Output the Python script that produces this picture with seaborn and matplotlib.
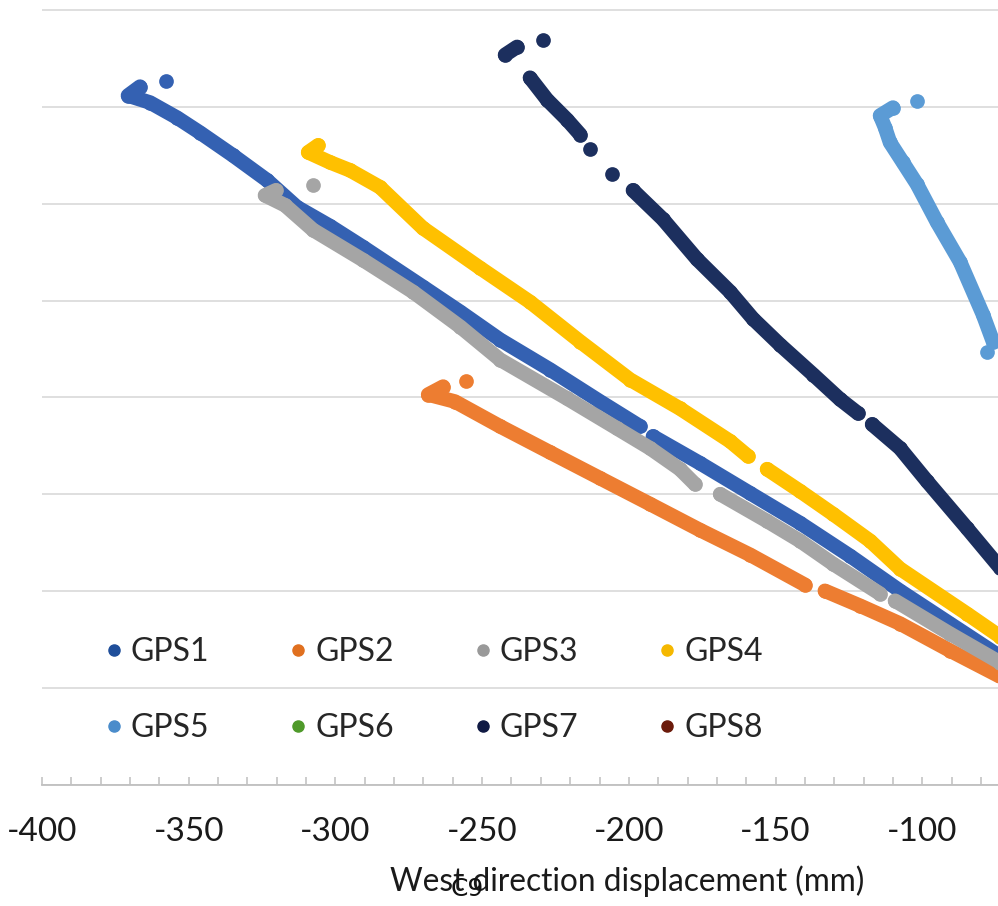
import matplotlib
matplotlib.use("Agg")
import matplotlib.pyplot as plt
import pandas as pd
import seaborn as sns
from matplotlib.lines import Line2D
from matplotlib.ticker import MultipleLocator

# ---------------- data (mm) ----------------
series_names = ["GPS1", "GPS2", "GPS3", "GPS4", "GPS5", "GPS6", "GPS7", "GPS8"]
series_colors = ["#3461B2", "#ED7D31", "#A5A5A5", "#FFC000",
                 "#5B9BD5", "#5E9E35", "#1C2F5E", "#7A1F0C"]
legend_colors = ["#1F4E9A", "#E0701F", "#999999", "#F5B800",
                 "#4A8CCB", "#4F9A2A", "#101A44", "#6B1A0A"]

gps1_x = [-366.6, -370.7, -363.2, -354.0, -346.2, -334.9, -323.3, -313.1, -301.8, -290.6,
          -270.2, -257.5, -243.9, -226.9, -209.8, -196.2, -191.8, -175.8, -158.7, -141.7,
          -124.6, -107.6, -90.6, -73.5, -357.7]
gps1_y = [360.4, 355.8, 352.2, 344.4, 336.7, 324.9, 312.1, 298.2, 288.4, 277.6,
          257.1, 244.2, 229.8, 214.4, 197.9, 185.1, 179.9, 166.1, 150.6, 135.2,
          118.2, 100.2, 83.3, 66.3, 363.5]
gps1_seg = [0] * 16 + [1] * 8 + [2]

gps2_x = [-263.3, -268.4, -259.3, -243.9, -226.9, -209.8, -192.8, -175.8, -158.7, -140.0,
          -133.2, -121.2, -107.6, -90.6, -73.5, -255.5]
gps2_y = [205.6, 201.5, 197.9, 185.1, 171.7, 158.3, 145.0, 131.6, 118.8, 103.3,
          100.2, 92.5, 83.3, 69.4, 56.0, 208.7]
gps2_seg = [0] * 10 + [1] * 5 + [2]

gps3_x = [-320.3, -324.0, -317.2, -307.6, -290.6, -273.6, -257.5, -243.9, -221.1, -204.0,
          -192.8, -182.6, -177.5, -168.9, -152.9, -141.7, -130.4, -114.4, -109.3, -90.6,
          -73.5, -307.6]
gps3_y = [306.9, 304.3, 299.2, 286.4, 270.9, 254.5, 236.5, 219.5, 199.5, 184.0,
          173.8, 163.0, 155.3, 150.1, 136.2, 126.0, 114.1, 98.7, 95.1, 78.1,
          63.2, 309.5]
gps3_seg = [0] * 13 + [1] * 5 + [2] * 3 + [3]

gps4_x = [-305.9, -309.3, -301.8, -295.0, -284.8, -270.2, -250.7, -233.7, -216.6, -199.6,
          -182.6, -165.5, -159.4, -152.9, -141.7, -130.4, -117.8, -107.6, -84.8, -73.5]
gps4_y = [330.1, 326.5, 321.3, 317.2, 308.5, 287.4, 266.8, 249.3, 228.8, 209.2,
          194.3, 177.4, 169.7, 163.0, 151.7, 139.8, 126.0, 111.6, 88.4, 76.6]
gps4_seg = [0] * 13 + [1] * 7

gps5_x = [-110.0, -114.4, -112.7, -111.0, -106.6, -101.8, -95.0, -87.1, -79.3, -75.9,
          -101.8, -77.9]
gps5_y = [349.6, 345.5, 339.3, 331.6, 321.3, 310.0, 290.5, 269.9, 242.7, 228.8,
          353.2, 223.6]
gps5_seg = [0] * 10 + [1] + [2]

gps6_x, gps6_y, gps6_seg = [], [], []

gps7_x = [-238.1, -242.2, -229.3, -233.7, -227.9, -221.1, -216.6, -213.2, -205.7, -198.6,
          -188.4, -176.8, -165.5, -157.7, -148.5, -137.2, -128.0, -121.9, -117.1, -107.6,
          -98.4, -84.8, -73.5]
gps7_y = [380.9, 376.8, 384.5, 365.0, 353.7, 343.4, 335.7, 328.0, 315.1, 306.9,
          292.0, 271.4, 254.5, 240.6, 227.2, 211.8, 199.0, 191.8, 186.1, 173.8,
          156.8, 132.6, 112.1]
gps7_seg = [0, 0, 1, 2, 2, 2, 2, 3, 4, 5, 5, 5, 5, 5, 5, 5, 5, 5, 6, 6, 6, 6, 6]

gps8_x, gps8_y, gps8_seg = [], [], []

all_x = [gps1_x, gps2_x, gps3_x, gps4_x, gps5_x, gps6_x, gps7_x, gps8_x]
all_y = [gps1_y, gps2_y, gps3_y, gps4_y, gps5_y, gps6_y, gps7_y, gps8_y]
all_seg = [gps1_seg, gps2_seg, gps3_seg, gps4_seg, gps5_seg, gps6_seg, gps7_seg, gps8_seg]

x_label = "West direction displacement (mm)"
x_ticks = [-400, -350, -300, -250, -200, -150, -100]

# ---------------- style ----------------
sns.set_theme(style="white")
plt.rcParams["font.family"] = ["Lato", "DejaVu Sans"]
plt.rcParams["axes.unicode_minus"] = False

fig = plt.figure(figsize=(9.98, 9.06), dpi=100)
ax = fig.add_axes([42 / 998, 121 / 906, 956 / 998, 778 / 906])

for i, (name, xs, ys, sg, col) in enumerate(zip(series_names, all_x, all_y, all_seg, series_colors)):
    if len(xs) == 0:
        continue
    df = pd.DataFrame({"x": xs, "y": ys, "seg": sg})
    sns.lineplot(data=df, x="x", y="y", units="seg", estimator=None, sort=False,
                 color=col, linewidth=10.5, solid_capstyle="round", ax=ax,
                 legend=False, zorder=3 + i * 0.1)
    sns.scatterplot(data=df, x="x", y="y", color=col, s=112, linewidth=0, ax=ax,
                    legend=False, zorder=3.05 + i * 0.1)

ax.set_xlim(-400, -74.2)
ax.set_ylim(0, 401.5)
ax.xaxis.set_minor_locator(MultipleLocator(10))
ax.set_xticks(x_ticks)
ax.yaxis.set_major_locator(MultipleLocator(50))
ax.grid(axis="y", color="#D9D9D9", linewidth=1.2)
ax.grid(axis="x", visible=False)
ax.set_axisbelow(True)

for s in ["left", "right", "top"]:
    ax.spines[s].set_visible(False)
ax.spines["bottom"].set_color("#BFBFBF")
ax.spines["bottom"].set_linewidth(1.3)

ax.tick_params(axis="y", left=False, labelleft=False)
ax.tick_params(axis="x", which="both", direction="in", bottom=True, length=6,
               width=1.1, color="#BFBFBF")
ax.tick_params(axis="x", which="major", labelsize=24, pad=23, labelcolor="#1A1A1A")

ax.set_xlabel(x_label, fontsize=22.8, color="#1A1A1A")
ax.xaxis.label.set_va("center")
ax.xaxis.set_label_coords(0.6125, (785 - 881) / 778)
ax.set_ylabel("")

# legend (row-wise order for 4 columns)
order = [0, 4, 1, 5, 2, 6, 3, 7]
handles = [Line2D([], [], marker="o", linestyle="", color=legend_colors[k],
                  markersize=8) for k in order]
labels = [series_names[k] for k in order]
ax.legend(handles, labels, ncol=4, loc="upper left", bbox_to_anchor=(0.067, 0.190),
          frameon=False, fontsize=23, handlelength=0.5, handletextpad=0.28,
          columnspacing=2.53, labelspacing=1.45, borderpad=0, borderaxespad=0)

fig.text(467 / 998, 1 - 889 / 906, "C9", ha="center", va="center",
         fontsize=18, family=["DejaVu Sans"], color="#111111", zorder=10)

fig.savefig("out.png", dpi=100)
